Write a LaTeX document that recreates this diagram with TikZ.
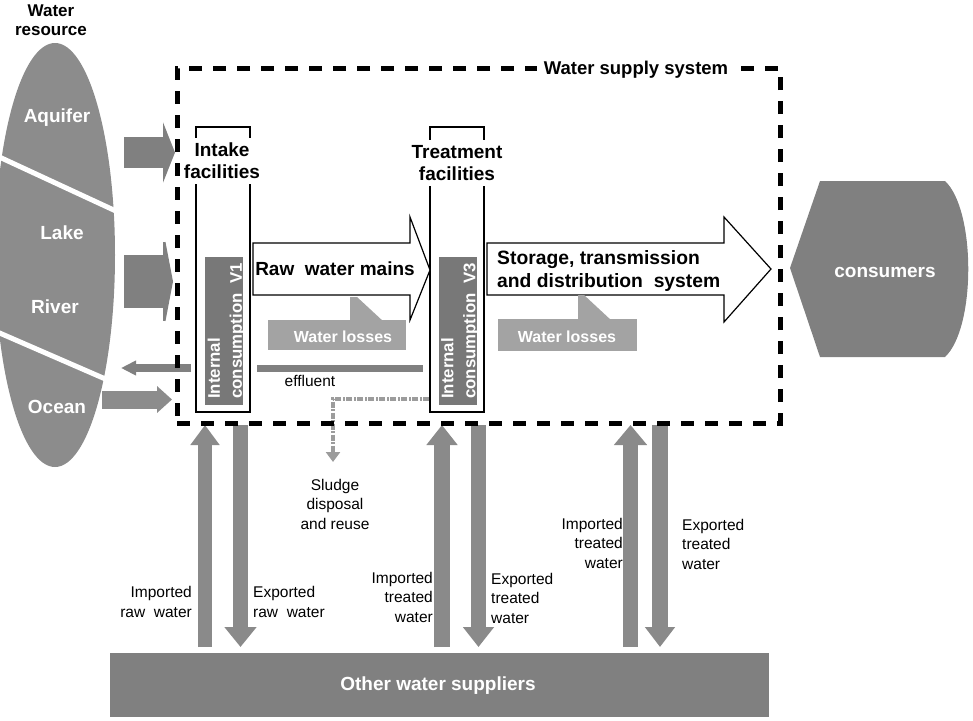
\documentclass[tikz,border=0pt]{standalone}
\usepackage{fontspec}
\setmainfont{Liberation Sans}
\usetikzlibrary{arrows.meta}

\definecolor{resgray}{HTML}{8C8C8C}
\definecolor{flowgray}{HTML}{808080}
\definecolor{boxgray}{HTML}{787878}
\definecolor{lossgray}{HTML}{A3A3A3}
\definecolor{linkgray}{HTML}{8A8A8A}
\definecolor{sludgegray}{HTML}{9C9C9C}

\begin{document}
\begin{tikzpicture}[x=1pt,y=-1pt,
  boldtxt/.style={font=\bfseries\fontsize{19}{22}\selectfont},
  plaintxt/.style={font=\fontsize{15.5}{19.5}\selectfont, inner sep=0pt},
  whitetxt/.style={boldtxt, text=white, inner sep=0pt},
  flow/.style n args={4}{draw=#1, line width=#2, -{Triangle[width=#3,length=#4]}},
  facility/.style={draw=black, line width=1.2pt, minimum width=54pt, minimum height=285pt, inner sep=0pt},
  consbox/.style={fill=boxgray, minimum width=38pt, minimum height=148pt, inner sep=0pt},
  constxt/.style={rotate=90, text=white, font=\bfseries\fontsize{16.8}{22}\selectfont, align=left, inner sep=0pt},
  pipearrow/.style={draw=black, line width=1.2pt, fill=white},
  lossbox/.style={fill=lossgray},
  losstxt/.style={whitetxt, font=\bfseries\fontsize{16}{18}\selectfont},
  facilitylabel/.style={boldtxt, fill=white, align=center, inner xsep=1pt, inner ysep=5pt},
]
\useasboundingbox (0,0) rectangle (973,720);

% ---------- water resources ----------
\node[align=center, inner sep=0pt, font=\bfseries\fontsize{17}{19}\selectfont] (reslbl) at (51,20) {Water\\resource};
\fill[resgray] (55,255) ellipse [x radius=60, y radius=212];
\draw[white, line width=5pt] (-5,155) -- (118,212);
\draw[white, line width=5pt] (-5,331) -- (110,381);
\node[whitetxt] (aquifer) at (57,118) {Aquifer};
\node[whitetxt] (lake) at (62,233) {Lake};
\node[whitetxt] (river) at (55,307) {River};
\node[whitetxt] (ocean) at (57,407) {Ocean};

% ---------- facilities ----------
\node[facility] (intake) at (223,269.5) {};
\node[facility] (treat) at (457,269.5) {};
\node[facilitylabel] (intakelbl) at (222,161) {Intake\\facilities};
\node[facilitylabel] (treatlbl) at (457,163) {Treatment\\facilities};
\node[consbox] (v1) at (224,331) {};
\node[consbox] (v3) at (457.5,331) {};
\node[constxt] (v1lbl) at (226.5,331) {Internal\\consumption\ \ V1};
\node[constxt] (v3lbl) at (460,331) {Internal\\consumption\ \ V3};

% ---------- mains and distribution ----------
\draw[pipearrow] (253,243) -- (410,243) -- (410,217) -- (430,270) -- (410,320) -- (410,295) -- (253,295) -- cycle;
\node[boldtxt, inner sep=0pt] (rawlbl) at (335,269) {Raw\ \ water mains};
\draw[pipearrow] (487,243) -- (724,243) -- (724,217) -- (771,269) -- (724,322) -- (724,295) -- (487,295) -- cycle;
\node[boldtxt, font=\bfseries\fontsize{19.3}{23}\selectfont, align=left, anchor=west, inner sep=0pt] (distlbl) at (497,271) {Storage, transmission\\and distribution\ \ system};

% ---------- water losses ----------
\fill[lossgray] (350,322) -- (350,297) -- (357,297) -- (384,322) -- cycle;
\node[lossbox, minimum width=138pt, minimum height=30pt, inner sep=0pt] (loss1) at (337,335) {};
\node[losstxt] (loss1lbl) at (343,337) {Water losses};
\fill[lossgray] (578,321) -- (578,295) -- (584,295) -- (612,321) -- cycle;
\node[lossbox, minimum width=139pt, minimum height=32pt, inner sep=0pt] (loss2) at (567.5,335) {};
\node[losstxt] (loss2lbl) at (567,337) {Water losses};

% ---------- inflows from the resources ----------
\coordinate (aqS) at (124,152.5);  \coordinate (aqE) at (175,152.5);
\coordinate (rvS) at (124,281.5);  \coordinate (rvE) at (173,281.5);
\coordinate (ocS) at (102,399.5);  \coordinate (ocE) at (172,399.5);
\draw[flow={flowgray}{31pt}{60pt}{12pt}] (aqS) -- (aqE);
\draw[flow={flowgray}{53pt}{105pt}{10pt}] (rvS) -- (rvE);
\draw[flow={resgray}{18pt}{26pt}{15pt}] (ocS) -- (ocE);

% ---------- effluent ----------
\coordinate (effS) at (191,368);  \coordinate (effE) at (121,368);
\draw[flow={flowgray}{7.5pt}{14pt}{15pt}] (effS) -- (effE);
\coordinate (effA) at (257,368);  \coordinate (effB) at (423,368);
\draw[flowgray, line width=7pt] (effA) -- (effB);
\node[plaintxt] (efflbl) at (310,381) {effluent};

% ---------- sludge ----------
\coordinate (sl1) at (333,399);  \coordinate (sl2) at (333,462);
\draw[sludgegray, line width=4.5pt, dash pattern=on 6pt off 1.5pt on 2pt off 1.5pt,
      -{Triangle[width=14pt,length=10pt]}] (treat.west |- sl1) -- (sl1) -- (sl2);
\node[plaintxt, align=center] (sludgelbl) at (335,504) {Sludge\\disposal\\and reuse};

% ---------- other water suppliers ----------
\node[fill=flowgray, minimum width=659pt, minimum height=64pt, inner sep=0pt] (supp) at (439.5,685) {};
\node[whitetxt, font=\bfseries\fontsize{19}{21}\selectfont] (supplbl) at (438,686) {Other water suppliers};

\coordinate (ir0) at (205,647);   \coordinate (ir1) at (205,425);
\coordinate (er0) at (240.5,425); \coordinate (er1) at (240.5,647);
\coordinate (it0) at (442,647);   \coordinate (it1) at (442,425);
\coordinate (et0) at (478.5,425); \coordinate (et1) at (478.5,647);
\coordinate (ic0) at (630.5,647); \coordinate (ic1) at (630.5,425);
\coordinate (ec0) at (660,425);   \coordinate (ec1) at (660,647);
\draw[flow={linkgray}{14pt}{28pt}{20pt}] (ir0) -- (ir1);
\draw[flow={linkgray}{15pt}{31pt}{20pt}] (er0) -- (er1);
\draw[flow={linkgray}{16pt}{30pt}{20pt}] (it0) -- (it1);
\draw[flow={linkgray}{15pt}{30pt}{20pt}] (et0) -- (et1);
\draw[flow={linkgray}{15pt}{32pt}{20pt}] (ic0) -- (ic1);
\draw[flow={linkgray}{16pt}{29pt}{20pt}] (ec0) -- (ec1);

\node[plaintxt, align=right, anchor=east] (irlbl) at (192,602) {Imported\\raw\ \ water};
\node[plaintxt, align=left, anchor=west] (erlbl) at (253,602) {Exported\\raw\ \ water};
\node[plaintxt, align=right, anchor=east] (itlbl) at (433,597) {Imported\\treated\\water};
\node[plaintxt, align=left, anchor=west] (etlbl) at (491,598) {Exported\\treated\\water};
\node[plaintxt, align=right, anchor=east] (iclbl) at (623,543) {Imported\\treated\\water};
\node[plaintxt, align=left, anchor=west] (eclbl) at (682,544) {Exported\\treated\\water};

% ---------- consumers ----------
\fill[flowgray] (790,268) -- (820,181) -- (945,181) .. controls (976,210) and (976,328) .. (945,357) -- (820,357) -- cycle;
\node[whitetxt] (consumers) at (885,272) {consumers};

% ---------- system boundary ----------
\node[draw=black, line width=5pt, dash pattern=on 13pt off 11pt, minimum width=603pt, minimum height=355pt, inner sep=0pt] (wss) at (478.5,245.5) {};
\node[boldtxt, font=\bfseries\fontsize{18.5}{21}\selectfont, fill=white, inner xsep=7pt, inner ysep=3pt] (wsslbl) at (636,70) {Water supply system};
\end{tikzpicture}
\end{document}
